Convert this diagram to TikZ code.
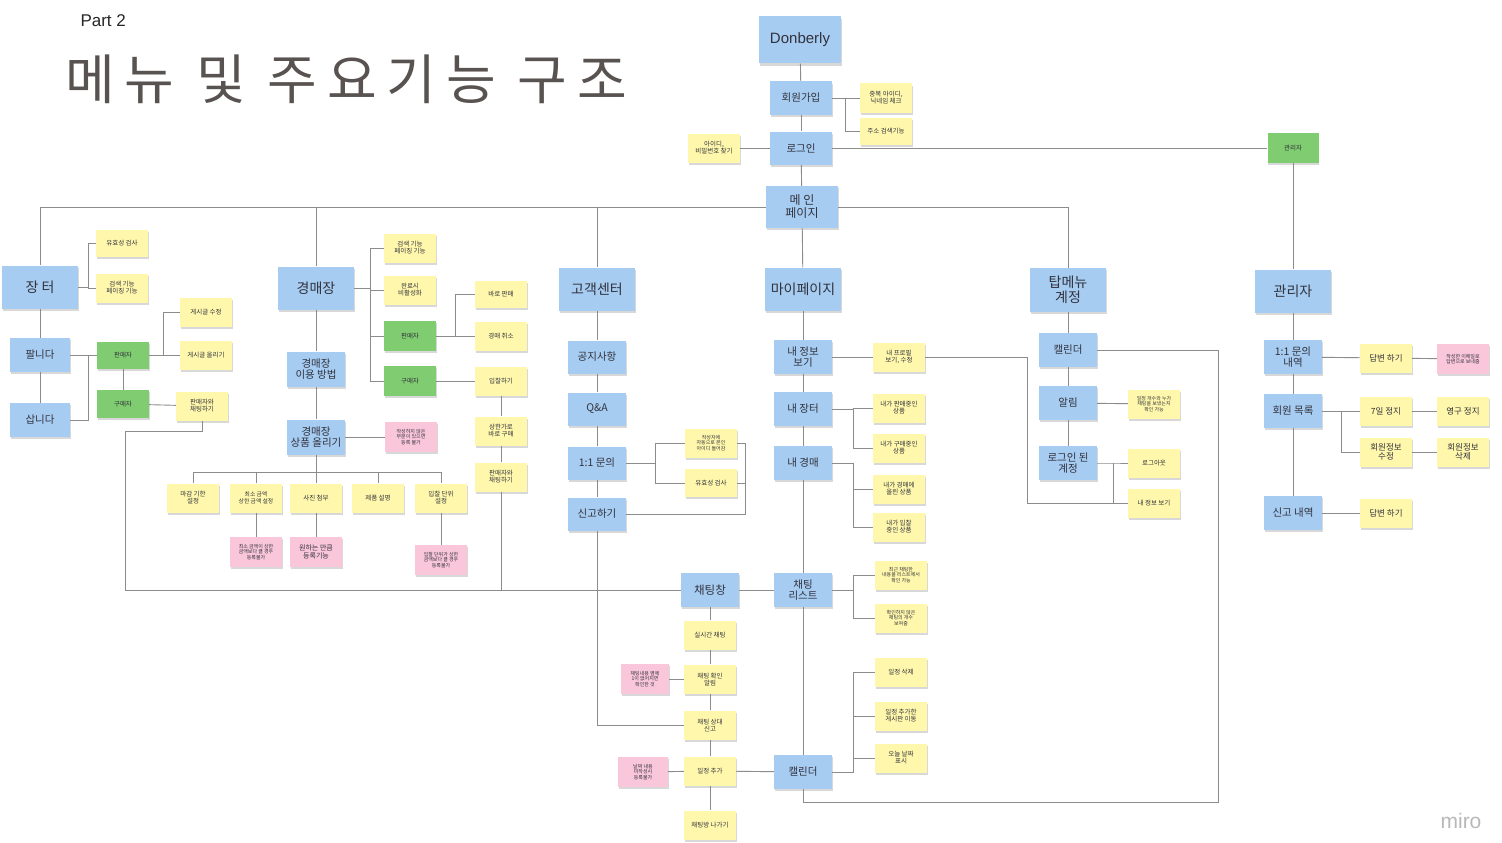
\documentclass[tikz,border=0pt]{standalone}
\usepackage{fontspec}
\setmainfont{Liberation Sans}
\newfontfamily\kr{Noto Sans CJK KR}
\newfontfamily\krt[LetterSpace=18]{Noto Sans CJK KR}
\usetikzlibrary{shadows,backgrounds}
\definecolor{bl}{RGB}{166,204,242}
\definecolor{ye}{RGB}{255,248,172}
\definecolor{gr}{RGB}{128,204,112}
\definecolor{pk}{RGB}{249,198,218}
\definecolor{lnc}{RGB}{140,140,140}
\definecolor{tx}{RGB}{50,50,60}
\definecolor{titlec}{RGB}{88,83,80}
\begin{document}
\begin{tikzpicture}[x=1pt,y=-1pt,
 card/.style={inner sep=1pt,align=center,text=tx,drop shadow={shadow xshift=0.5pt,shadow yshift=-2.2pt,opacity=0.3}},
 big/.style={card,fill=bl,minimum width=76,minimum height=43,font=\kr\fontsize{14}{15}\selectfont},
 mid/.style={card,fill=bl,minimum width=58,minimum height=34,font=\kr\fontsize{10.5}{10.5}\selectfont},
 yel/.style={card,fill=ye,minimum width=52,minimum height=29,font=\kr\fontsize{6.5}{7}\selectfont},
 grn/.style={card,fill=gr,minimum width=52,minimum height=28,font=\kr\fontsize{6.5}{7}\selectfont},
 pnk/.style={card,fill=pk,minimum width=52,minimum height=30,font=\kr\fontsize{5}{5.6}\selectfont},
 sm/.style={font=\kr\fontsize{5}{5.6}\selectfont},
 lg/.style={font=\kr\fontsize{8.5}{9}\selectfont},
 ln/.style={draw=lnc,line width=0.9pt}
]
\useasboundingbox (0,0) rectangle (1502,843);
% titles
\node[anchor=west,font=\fontsize{17}{19}\selectfont,text=black!85] (part) at (77,21) {Part 2};
\node[anchor=west,font=\krt\fontsize{54}{56}\selectfont,text=titlec] (title) at (62,79) {메뉴 및 주요기능 구조};
\node[font=\fontsize{21}{22}\selectfont,text=black!28] (miro) at (1461,821) {miro};
% top
\node[card,fill=bl,minimum width=82,minimum height=47,font=\fontsize{15}{17}\selectfont] (don) at (800,40) {Donberly};
\node[mid,minimum width=62,minimum height=33] (join) at (801,98) {회원가입};
\node[yel] (dup) at (886,98) {중복 아이디,\\닉네임 체크};
\node[yel,minimum height=27] (addr) at (886,131) {주소 검색기능};
\node[mid,minimum width=62,minimum height=33] (login) at (801,148) {로그인};
\node[yel] (find) at (714,148) {아이디,\\비밀번호 찾기};
\node[grn,minimum width=51,minimum height=30] (adm0) at (1293,148) {관리자};
\node[mid,minimum width=72,minimum height=42,font=\kr\fontsize{12}{13}\selectfont] (main) at (802,207) {메 인\\페이지};
% categories
\node[big] (jt) at (40,287) {장 터};
\node[big] (gm) at (316,288) {경매장};
\node[big] (cs) at (597,289) {고객센터};
\node[big] (mp) at (803,289) {마이페이지};
\node[big,minimum height=44] (tm) at (1068,290) {탑메뉴\\계정};
\node[big] (ad) at (1293,291) {관리자};
% jangteo
\node[yel,minimum height=27] (jt1) at (122,243) {유효성 검사};
\node[yel] (jt2) at (122,288) {검색 기능\\페이징 기능};
\node[mid,minimum width=60] (sell) at (40,355) {팔니다};
\node[mid,minimum width=60] (buy) at (40,420) {삽니다};
\node[grn,minimum height=27] (js) at (123,355) {판매자};
\node[grn] (jb) at (123,404) {구매자};
\node[yel] (jp1) at (206,312) {게시글 수정};
\node[yel] (jp2) at (206,355) {게시글 올리기};
\node[yel] (jchat) at (202,406) {판매자와\\채팅하기};
% auction
\node[yel] (g1) at (410,248) {검색 기능\\페이징 기능};
\node[yel] (g2) at (410,290) {완료시\\비활성화};
\node[grn,minimum height=30] (gs) at (410,336) {판매자};
\node[grn,minimum height=30] (gb) at (410,381) {구매자};
\node[yel,minimum height=27] (g3) at (501,294) {바로 판매};
\node[yel] (g4) at (501,336) {경매 취소};
\node[yel] (g5) at (501,381) {입찰하기};
\node[yel] (g6) at (501,431) {상한가로\\바로 구매};
\node[yel] (g7) at (501,477) {판매자와\\채팅하기};
\node[mid,minimum height=35] (guse) at (316,369) {경매장\\이용 방법};
\node[mid,minimum height=35] (gup) at (316,437) {경매장\\상품 올리기};
\node[pnk] (gp) at (411,437) {작성하지 않은\\부분이 있으면\\등록 불가};
\node[yel] (r1) at (193,498) {마감 기한\\설정};
\node[yel,font=\kr\fontsize{5.8}{6.5}\selectfont] (r2) at (256,498) {최소 금액\\상한 금액 설정};
\node[yel] (r3) at (316,498) {사진 첨부};
\node[yel] (r4) at (378,498) {제품 설명};
\node[yel] (r5) at (441,498) {입찰 단위\\설정};
\node[pnk] (p1) at (256,552) {최소 금액이 상한\\금액보다 클 경우\\등록불가};
\node[pnk,font=\kr\fontsize{7}{7.5}\selectfont] (p2) at (316,552) {원하는 만큼\\등록기능};
\node[pnk] (p3) at (441,560) {입찰 단위가 상한\\금액보다 클 경우\\등록불가};
% customer center
\node[mid,minimum height=33] (cs1) at (597,357) {공지사항};
\node[mid,minimum height=33] (cs2) at (597,409) {Q\&A};
\node[mid,minimum height=33] (cs3) at (597,463) {1:1 문의};
\node[mid,minimum height=33] (cs4) at (597,514) {신고하기};
\node[yel,sm] (cy1) at (711,443) {작성자에\\자동으로 본인\\아이디 들어감};
\node[yel,minimum height=28] (cy2) at (711,483) {유효성 검사};
% my page
\node[mid] (m1) at (803,357) {내 정보\\보기};
\node[yel] (m1y) at (899,357) {내 프로필\\보기, 수정};
\node[mid] (m2) at (803,409) {내 장터};
\node[yel] (m2a) at (899,408) {내가 판매중인\\상품};
\node[yel] (m2b) at (899,448) {내가 구매중인\\상품};
\node[mid] (m3) at (803,463) {내 경매};
\node[yel] (m3a) at (899,489) {내가 경매에\\올린 상품};
\node[yel] (m3b) at (899,527) {내가 입찰\\중인 상품};
% chat
\node[mid] (cl) at (803,590) {채팅\\리스트};
\node[mid,font=\kr\fontsize{11.5}{12}\selectfont] (chat) at (710,590) {채팅창};
\node[yel,sm] (cl1) at (901,575) {최근 채팅한\\내용을 리스트에서\\확인 가능};
\node[yel,sm] (cl2) at (901,618) {확인하지 않은\\채팅의 개수\\보여줌};
\node[mid] (cal) at (803,772) {캘린더};
\node[yel] (ca1) at (901,672) {일정 삭제};
\node[yel] (ca2) at (901,716) {일정 추가한\\게시판 이동};
\node[yel] (ca3) at (901,758) {오늘 날짜\\표시};
\node[yel] (w1) at (710,635) {실시간 채팅};
\node[yel] (w2) at (710,679) {채팅 확인\\알림};
\node[yel] (w3) at (710,725) {채팅 상대\\신고};
\node[yel] (w4) at (710,771) {일정 추가};
\node[yel] (w5) at (710,825) {채팅방 나가기};
\node[pnk,minimum width=48] (wp1) at (645,679) {채팅내용 옆에\\1이 없어지면\\확인한 것};
\node[pnk,minimum width=50] (wp2) at (643,772) {날짜 내용\\미작성시\\등록불가};
% top menu
\node[mid] (tc) at (1068,350) {캘린더};
\node[mid] (ta) at (1068,403) {알림};
\node[yel,sm] (taY) at (1154,404) {일정 개수와 누가\\채팅을 보냈는지\\확인 가능};
\node[mid] (tl) at (1068,463) {로그인 된\\계정};
\node[yel] (t4) at (1154,463) {로그아웃};
\node[yel] (t5) at (1154,503) {내 정보 보기};
% admin
\node[mid] (a1) at (1293,357) {1:1 문의\\내역};
\node[yel,lg] (a1y) at (1386,358) {답변 하기};
\node[pnk] (a1p) at (1463,359) {작성한 이메일로\\답변으로 보내줌};
\node[mid] (a2) at (1293,411) {회원 목록};
\node[yel,lg] (a2a) at (1386,411) {7일 정지};
\node[yel,lg] (a2b) at (1463,411) {영구 정지};
\node[yel,lg] (a2c) at (1386,452) {회원정보\\수정};
\node[yel,lg] (a2d) at (1463,452) {회원정보\\삭제};
\node[mid] (a3) at (1293,513) {신고 내역};
\node[yel,lg] (a3y) at (1386,513) {답변 하기};
% connectors
\begin{scope}[on background layer]
\fill[white] (0,0) rectangle (1502,843);
\draw[ln] (don) -- (join);
\draw[ln] (join) -- (login);
\draw[ln] (login) -- (main);
\draw[ln] (join.east) -- ++(13,0) coordinate (c1) |- (addr.west);
\draw[ln] (c1) -- (dup.west);
\draw[ln] (login) -- (find);
\draw[ln] (login) -- (adm0);
\draw[ln] (adm0) -- (ad);
\draw[ln] (main.west) -| (jt.north);
\draw[ln] (main.west) -| (gm.north);
\draw[ln] (main.west) -| (cs.north);
\draw[ln] (main) -- (mp);
\draw[ln] (main.east) -| (tm.north);
% jangteo
\draw[ln] (jt) -- (sell);
\draw[ln] (sell) -- (buy);
\draw[ln] (jt.east) -- ++(10,0) coordinate (c2) |- (jt1.west);
\draw[ln] (c2) |- (jt2.west);
\draw[ln] (sell) -- (js);
\draw[ln] (buy.east) -- ++(18,0) |- (js.west);
\draw[ln] (js.east) -- ++(14,0) coordinate (c3) |- (jp1.west);
\draw[ln] (c3) -- (jp2.west);
\draw[ln] (js) -- (jb);
\draw[ln] (jb) -- (jchat);
\draw[ln] (jchat.south) -- ++(0,11) -- ++(-77,0) |- (chat.west);
% auction
\draw[ln] (gm) -- (guse);
\draw[ln] (guse) -- (gup);
\draw[ln] (gm.east) -- ++(16,0) coordinate (c5) |- (g1.west);
\draw[ln] (c5) |- (g2.west);
\draw[ln] (c5) |- (gs.west);
\draw[ln] (c5) |- (gb.west);
\draw[ln] (gs.east) -- ++(19,0) coordinate (c6) |- (g3.west);
\draw[ln] (gs) -- (g4);
\draw[ln] (gb) -- (g5);
\draw[ln] (g5) -- (g6);
\draw[ln] (g6) -- (g7);
\draw[ln] (g7.south) -- (g7.south |- chat.west);
\draw[ln] (gup) -- (gp);
\draw[ln] (gup.south) -- ++(0,18) coordinate (c7);
\draw[ln] (r1.north) |- (c7) -| (r5.north);
\draw[ln] (r2.north) -- (r2.north |- c7);
\draw[ln] (r4.north) -- (r4.north |- c7);
\draw[ln] (r3) -- (c7);
\draw[ln] (r2) -- (p1);
\draw[ln] (r3) -- (p2);
\draw[ln] (r5) -- (p3);
% customer center
\draw[ln] (cs) -- (cs1);
\draw[ln] (cs1) -- (cs2);
\draw[ln] (cs2) -- (cs3);
\draw[ln] (cs3) -- (cs4);
\draw[ln] (cs3.east) -- ++(29,0) coordinate (c8) |- (cy1.west);
\draw[ln] (c8) |- (cy2.west);
\draw[ln] (cy1.east) -- ++(8,0) coordinate (c10) |- (cs4.east);
\draw[ln] (cy2.east) -- (cy2.east -| c10);
\draw[ln] (cs4.south) |- (w3.west);
% my page
\draw[ln] (mp) -- (m1);
\draw[ln] (m1) -- (m2);
\draw[ln] (m2) -- (m3);
\draw[ln] (m3) -- (cl);
\draw[ln] (m1) -- (m1y);
\draw[ln] (m1y.east) -- ++(102,0) |- (t5.west);
\draw[ln] (m2.east) -- ++(21,0) coordinate (c11) |- (m2a.west);
\draw[ln] (c11) |- (m2b.west);
\draw[ln] (m3.east) -- ++(21,0) coordinate (c12) |- (m3a.west);
\draw[ln] (c12) |- (m3b.west);
% chat
\draw[ln] (chat) -- (cl);
\draw[ln] (chat) -- (w1);
\draw[ln] (w1) -- (w2);
\draw[ln] (w2) -- (w3);
\draw[ln] (w3) -- (w4);
\draw[ln] (w4) -- (w5);
\draw[ln] (wp1) -- (w2);
\draw[ln] (wp2) -- (w4);
\draw[ln] (w4) -- (cal);
\draw[ln] (cl) -- (cal);
\draw[ln] (cl.east) -- ++(21,0) coordinate (c13) |- (cl1.west);
\draw[ln] (c13) |- (cl2.west);
\draw[ln] (cal.east) -- ++(21,0) coordinate (c14) |- (ca1.west);
\draw[ln] (c14) |- (ca2.west);
\draw[ln] (c14) |- (ca3.west);
\draw[ln] (cal.south) -- ++(0,13) -- ++(415,0) |- (tc.east);
% top menu
\draw[ln] (tm) -- (tc);
\draw[ln] (tc) -- (ta);
\draw[ln] (ta) -- (tl);
\draw[ln] (ta) -- (taY);
\draw[ln] (tl.east) -- ++(16,0) coordinate (c15) |- (t4.west);
\draw[ln] (c15) |- (t5.west);
% admin
\draw[ln] (ad) -- (a1);
\draw[ln] (a1) -- (a2);
\draw[ln] (a2) -- (a3);
\draw[ln] (a1) -- (a1y);
\draw[ln] (a1y) -- (a1p);
\draw[ln] (a2) -- (a2a);
\draw[ln] (a2a) -- (a2b);
\draw[ln] (a2.east) -- ++(19,0) |- (a2c.west);
\draw[ln] (a2c) -- (a2d);
\draw[ln] (a3) -- (a3y);
\end{scope}
\end{tikzpicture}
\end{document}
